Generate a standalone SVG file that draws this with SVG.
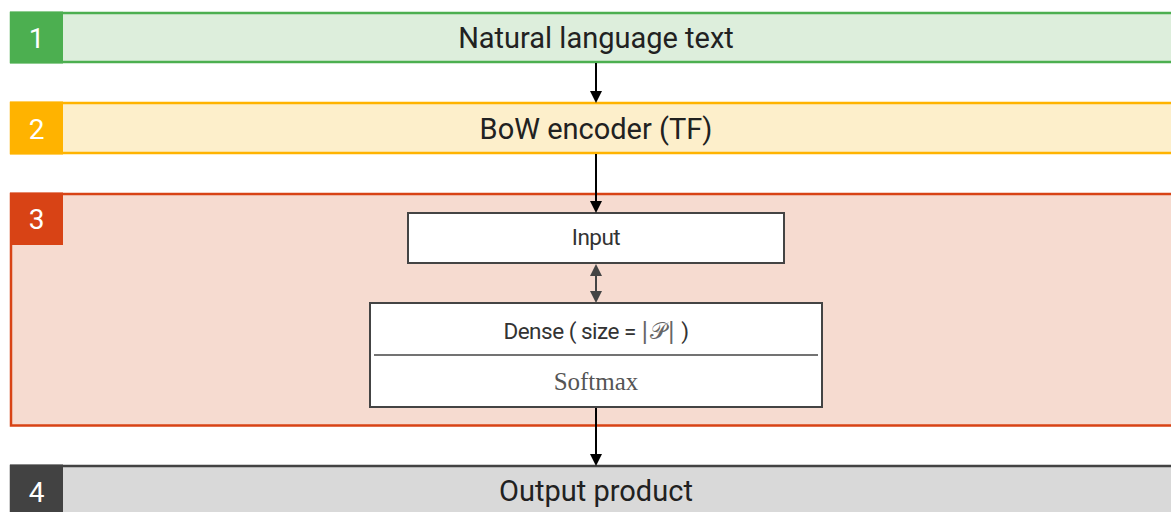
<svg xmlns="http://www.w3.org/2000/svg" width="1171" height="512" viewBox="0 0 1171 512">
<style>
.lbl{font-family:Roboto,"Liberation Sans",sans-serif;font-size:29px;fill:#212121;text-anchor:middle;dominant-baseline:central}
.num{font-family:Roboto,"Liberation Sans",sans-serif;font-size:28px;fill:#ffffff;text-anchor:middle;dominant-baseline:central}
.node{fill:#ffffff;stroke:#444444;stroke-width:2}
.ntext{font-family:Roboto,"Liberation Sans",sans-serif;font-size:22.5px;fill:#333333;text-anchor:middle;dominant-baseline:central;letter-spacing:-0.5px}
.serif{font-family:"Liberation Serif","DejaVu Serif",serif;font-size:25px;fill:#555555;text-anchor:middle;dominant-baseline:central}
.conn{stroke:#000000;stroke-width:2;fill:none}
.conn2{stroke:#444444;stroke-width:2;fill:none}
</style>
<defs>
<marker id="ah" markerWidth="12" markerHeight="12" refX="10" refY="6" orient="auto" markerUnits="userSpaceOnUse">
<path d="M0,0 L12,6 L0,12 Z" fill="#000000"/>
</marker>
<marker id="ahg" markerWidth="12" markerHeight="12" refX="10" refY="6" orient="auto-start-reverse" markerUnits="userSpaceOnUse">
<path d="M0,0 L12,6 L0,12 Z" fill="#444444"/>
</marker>
</defs>

<g id="band1">
<rect x="11" y="13" width="1170" height="49" fill="#DDEEDC" stroke="#4CAF50" stroke-width="2.5"/>
<rect x="10" y="11.5" width="53" height="52" fill="#4CAF50"/>
<text class="num" x="36.5" y="38">1</text>
<text class="lbl" x="596" y="38">Natural language text</text>
</g>

<g id="band2">
<rect x="11" y="103" width="1170" height="50" fill="#FDEFCB" stroke="#FFB300" stroke-width="2.5"/>
<rect x="10" y="101.5" width="53" height="53" fill="#FFB300"/>
<text class="num" x="36.5" y="129">2</text>
<text class="lbl" x="596" y="129">BoW encoder (TF)</text>
</g>

<g id="band3">
<rect x="11" y="194" width="1170" height="231.5" fill="#F6DBD0" stroke="#D84315" stroke-width="2.5"/>
<rect x="10" y="192.5" width="53" height="52.5" fill="#D84315"/>
<text class="num" x="36.5" y="219">3</text>
</g>

<g id="band4">
<rect x="11" y="466" width="1170" height="60" fill="#D9D9D9" stroke="#424242" stroke-width="2.5"/>
<rect x="10" y="464.5" width="53" height="50" fill="#424242"/>
<text class="num" x="36.5" y="492">4</text>
<text class="lbl" x="596" y="491">Output product</text>
</g>

<g id="input">
<rect class="node" x="408" y="213" width="376" height="50"/>
<text class="ntext" x="596" y="237">Input</text>
</g>

<g id="dense">
<rect class="node" x="370" y="303" width="452" height="104"/>
<line x1="374" y1="355" x2="818" y2="355" stroke="#444444" stroke-width="1.5"/>
<text class="ntext" x="596" y="331">Dense ( size = <tspan font-family="'DejaVu Sans','Liberation Serif',serif" fill="#666666" letter-spacing="1">|𝒫|</tspan> )</text>
<text class="serif" x="596" y="381">Softmax</text>
</g>

<g id="connectors">
<line class="conn" x1="596" y1="63" x2="596" y2="101" marker-end="url(#ah)"/>
<line class="conn" x1="596" y1="154" x2="596" y2="211" marker-end="url(#ah)"/>
<line class="conn2" x1="596" y1="266" x2="596" y2="301" marker-start="url(#ahg)" marker-end="url(#ahg)"/>
<line class="conn" x1="596" y1="408" x2="596" y2="464" marker-end="url(#ah)"/>
</g>
</svg>
